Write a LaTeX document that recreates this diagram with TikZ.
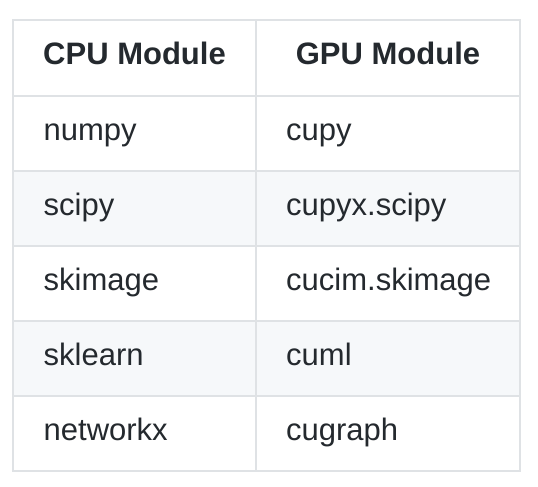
\documentclass[tikz,border=0pt]{standalone}
\usepackage{fontspec}
\setmainfont{Liberation Sans}
\definecolor{gridline}{HTML}{DFE2E5}
\definecolor{stripe}{HTML}{F6F8FA}
\definecolor{inkcol}{HTML}{24292E}
\tikzset{
  cell/.style={anchor=base west, inner sep=0pt, text=inkcol, font=\fontsize{31}{36}\selectfont},
  head/.style={anchor=base, inner sep=0pt, text=inkcol, font=\fontsize{31}{36}\selectfont\bfseries},
  rule/.style={draw=gridline, line width=1.3pt},
}
\begin{document}
\begin{tikzpicture}[x=1pt, y=-1pt]
  \useasboundingbox[fill=white] (0,0) rectangle (538,487);

  % Draw striped rows
  \fill[stripe] (13,171) rectangle (520,246);
  \fill[stripe] (13,321) rectangle (520,396);

  % Draw grid
  \draw[rule] (13,20) rectangle (520,471);
  \draw[rule] (256,20) -- (256,471);
  \foreach \y in {96,171,246,321,396}
    \draw[rule] (13,\y) -- (520,\y);

  % Draw header
  \node[head] (cpuhead) at (134.5,65) {CPU Module};
  \node[head] (gpuhead) at (388,65) {GPU Module};

  % Draw CPU modules
  \node[cell] (numpy) at (43.5,140) {numpy};
  \node[cell] (scipy) at (43.5,215) {scipy};
  \node[cell] (skimage) at (43.5,290) {skimage};
  \node[cell] (sklearn) at (43.5,365) {sklearn};
  \node[cell] (networkx) at (43.5,440) {networkx};

  % Draw GPU modules
  \node[cell] (cupy) at (286,140) {cupy};
  \node[cell] (cupyx) at (286,215) {cupyx.scipy};
  \node[cell] (cucim) at (286,290) {cucim.skimage};
  \node[cell] (cuml) at (286,365) {cuml};
  \node[cell] (cugraph) at (286,440) {cugraph};
\end{tikzpicture}
\end{document}
